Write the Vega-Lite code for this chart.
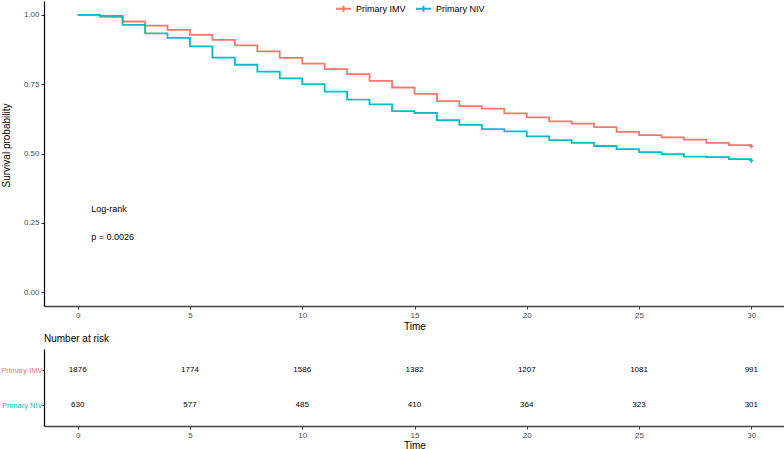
{
  "$schema": "https://vega.github.io/schema/vega-lite/v6.json",
  "padding": 0,
  "bounds": "flush",
  "spacing": 43,
  "config": {
    "font": "Liberation Sans",
    "view": {"stroke": null},
    "axis": {"grid": false, "labelFont": "Liberation Sans", "titleFont": "Liberation Sans", "labelColor": "#4d4d4d", "tickColor": "#333", "titleFontWeight": "normal", "titleColor": "#000"},
    "legend": {"labelFont": "Liberation Sans"}
  },
  "datasets": {
    "surv": [
      {"time": 0, "surv": 1.0, "group": "Primary IMV"},
      {"time": 1, "surv": 0.993, "group": "Primary IMV"},
      {"time": 2, "surv": 0.976, "group": "Primary IMV"},
      {"time": 3, "surv": 0.961, "group": "Primary IMV"},
      {"time": 4, "surv": 0.946, "group": "Primary IMV"},
      {"time": 5, "surv": 0.928, "group": "Primary IMV"},
      {"time": 6, "surv": 0.910, "group": "Primary IMV"},
      {"time": 7, "surv": 0.890, "group": "Primary IMV"},
      {"time": 8, "surv": 0.868, "group": "Primary IMV"},
      {"time": 9, "surv": 0.845, "group": "Primary IMV"},
      {"time": 10, "surv": 0.824, "group": "Primary IMV"},
      {"time": 11, "surv": 0.804, "group": "Primary IMV"},
      {"time": 12, "surv": 0.786, "group": "Primary IMV"},
      {"time": 13, "surv": 0.762, "group": "Primary IMV"},
      {"time": 14, "surv": 0.738, "group": "Primary IMV"},
      {"time": 15, "surv": 0.715, "group": "Primary IMV"},
      {"time": 16, "surv": 0.689, "group": "Primary IMV"},
      {"time": 17, "surv": 0.671, "group": "Primary IMV"},
      {"time": 18, "surv": 0.662, "group": "Primary IMV"},
      {"time": 19, "surv": 0.645, "group": "Primary IMV"},
      {"time": 20, "surv": 0.630, "group": "Primary IMV"},
      {"time": 21, "surv": 0.616, "group": "Primary IMV"},
      {"time": 22, "surv": 0.608, "group": "Primary IMV"},
      {"time": 23, "surv": 0.595, "group": "Primary IMV"},
      {"time": 24, "surv": 0.578, "group": "Primary IMV"},
      {"time": 25, "surv": 0.566, "group": "Primary IMV"},
      {"time": 26, "surv": 0.558, "group": "Primary IMV"},
      {"time": 27, "surv": 0.550, "group": "Primary IMV"},
      {"time": 28, "surv": 0.538, "group": "Primary IMV"},
      {"time": 29, "surv": 0.530, "group": "Primary IMV"},
      {"time": 30, "surv": 0.526, "group": "Primary IMV"},
      {"time": 0, "surv": 1.0, "group": "Primary NIV"},
      {"time": 1, "surv": 0.996, "group": "Primary NIV"},
      {"time": 2, "surv": 0.964, "group": "Primary NIV"},
      {"time": 3, "surv": 0.933, "group": "Primary NIV"},
      {"time": 4, "surv": 0.917, "group": "Primary NIV"},
      {"time": 5, "surv": 0.886, "group": "Primary NIV"},
      {"time": 6, "surv": 0.846, "group": "Primary NIV"},
      {"time": 7, "surv": 0.820, "group": "Primary NIV"},
      {"time": 8, "surv": 0.795, "group": "Primary NIV"},
      {"time": 9, "surv": 0.771, "group": "Primary NIV"},
      {"time": 10, "surv": 0.750, "group": "Primary NIV"},
      {"time": 11, "surv": 0.723, "group": "Primary NIV"},
      {"time": 12, "surv": 0.694, "group": "Primary NIV"},
      {"time": 13, "surv": 0.677, "group": "Primary NIV"},
      {"time": 14, "surv": 0.653, "group": "Primary NIV"},
      {"time": 15, "surv": 0.646, "group": "Primary NIV"},
      {"time": 16, "surv": 0.620, "group": "Primary NIV"},
      {"time": 17, "surv": 0.603, "group": "Primary NIV"},
      {"time": 18, "surv": 0.588, "group": "Primary NIV"},
      {"time": 19, "surv": 0.580, "group": "Primary NIV"},
      {"time": 20, "surv": 0.562, "group": "Primary NIV"},
      {"time": 21, "surv": 0.548, "group": "Primary NIV"},
      {"time": 22, "surv": 0.538, "group": "Primary NIV"},
      {"time": 23, "surv": 0.527, "group": "Primary NIV"},
      {"time": 24, "surv": 0.516, "group": "Primary NIV"},
      {"time": 25, "surv": 0.505, "group": "Primary NIV"},
      {"time": 26, "surv": 0.498, "group": "Primary NIV"},
      {"time": 27, "surv": 0.489, "group": "Primary NIV"},
      {"time": 28, "surv": 0.487, "group": "Primary NIV"},
      {"time": 29, "surv": 0.480, "group": "Primary NIV"},
      {"time": 30, "surv": 0.474, "group": "Primary NIV"}
    ],
    "risk": [
      {"time": 0, "n": 1876, "group": "Primary IMV"},
      {"time": 5, "n": 1774, "group": "Primary IMV"},
      {"time": 10, "n": 1586, "group": "Primary IMV"},
      {"time": 15, "n": 1382, "group": "Primary IMV"},
      {"time": 20, "n": 1207, "group": "Primary IMV"},
      {"time": 25, "n": 1081, "group": "Primary IMV"},
      {"time": 30, "n": 991, "group": "Primary IMV"},
      {"time": 0, "n": 630, "group": "Primary NIV"},
      {"time": 5, "n": 577, "group": "Primary NIV"},
      {"time": 10, "n": 485, "group": "Primary NIV"},
      {"time": 15, "n": 410, "group": "Primary NIV"},
      {"time": 20, "n": 364, "group": "Primary NIV"},
      {"time": 25, "n": 323, "group": "Primary NIV"},
      {"time": 30, "n": 301, "group": "Primary NIV"}
    ],
    "notes": [
      {"time": 0.6, "surv": 0.30, "label": "Log-rank"},
      {"time": 0.6, "surv": 0.20, "label": "p = 0.0026"}
    ]
  },
  "vconcat": [
    {
      "width": 741,
      "height": 305,
      "layer": [
        {
          "data": {"name": "surv"},
          "mark": {"type": "line", "interpolate": "step-after", "strokeWidth": 1.8},
          "encoding": {
            "x": {"field": "time", "type": "quantitative",
                  "scale": {"domain": [-1.5, 31.5], "nice": false, "zero": false},
                  "axis": {"values": [0, 5, 10, 15, 20, 25, 30], "title": "Time", "labelFontSize": 8, "titleFontSize": 10, "tickSize": 3, "labelPadding": 2, "titlePadding": 2, "domainColor": "#444", "domainWidth": 1.6}},
            "y": {"field": "surv", "type": "quantitative",
                  "scale": {"domain": [-0.05, 1.05], "nice": false, "zero": false},
                  "axis": {"values": [0, 0.25, 0.5, 0.75, 1], "format": ".2f", "title": "Survival probability", "titleY": 144, "labelFontSize": 8, "titleFontSize": 10, "tickSize": 3, "labelPadding": 2, "titlePadding": 12, "domainColor": "#000", "domainWidth": 1.2}},
            "color": {"field": "group", "type": "nominal",
                      "scale": {"domain": ["Primary IMV", "Primary NIV"], "range": ["#F8766D", "#00BFC4"]},
                      "legend": {"title": null, "orient": "none", "direction": "horizontal", "legendX": 291, "legendY": -1, "labelFontSize": 9, "labelOffset": 4, "columnPadding": 6, "symbolType": "M-1,0H1M0,-0.4V0.4", "symbolSize": 225, "symbolStrokeWidth": 2, "labelColor": "#000"}}
          }
        },
        {
          "data": {"name": "surv"},
          "transform": [{"filter": "datum.time == 30"}],
          "mark": {"type": "point", "shape": "M-1,0H1M0,-1V1", "size": 20, "filled": false, "strokeWidth": 1.2, "opacity": 1},
          "encoding": {
            "x": {"field": "time", "type": "quantitative"},
            "y": {"field": "surv", "type": "quantitative"},
            "color": {"field": "group", "type": "nominal"}
          }
        },
        {
          "data": {"name": "notes"},
          "mark": {"type": "text", "align": "left", "baseline": "middle", "fontSize": 9, "color": "#000"},
          "encoding": {
            "x": {"field": "time", "type": "quantitative"},
            "y": {"field": "surv", "type": "quantitative"},
            "text": {"field": "label"}
          }
        }
      ]
    },
    {
      "width": 741,
      "height": 77,
      "title": {"text": "Number at risk", "anchor": "start", "frame": "group", "fontSize": 10, "fontWeight": "normal", "offset": 5, "color": "#000"},
      "data": {"name": "risk"},
      "mark": {"type": "text", "fontSize": 8, "color": "#000", "baseline": "middle"},
      "encoding": {
        "x": {"field": "time", "type": "quantitative",
              "scale": {"domain": [-1.5, 31.5], "nice": false, "zero": false},
              "axis": {"values": [0, 5, 10, 15, 20, 25, 30], "title": "Time", "labelFontSize": 8, "titleFontSize": 10, "tickSize": 3, "labelPadding": 2, "titlePadding": 1, "domainColor": "#444", "domainWidth": 1.6}},
        "y": {"field": "group", "type": "nominal",
              "scale": {"type": "point", "domain": ["Primary IMV", "Primary NIV"], "padding": 0.6},
              "axis": {"title": null, "labelFontSize": 7.5, "tickSize": 2, "labelPadding": 0, "domainColor": "#000", "domainWidth": 1.2,
                       "labelColor": {"condition": {"test": "datum.value == 'Primary IMV'", "value": "#F8766D"}, "value": "#00BFC4"}}},
        "text": {"field": "n", "type": "quantitative"}
      }
    }
  ]
}
